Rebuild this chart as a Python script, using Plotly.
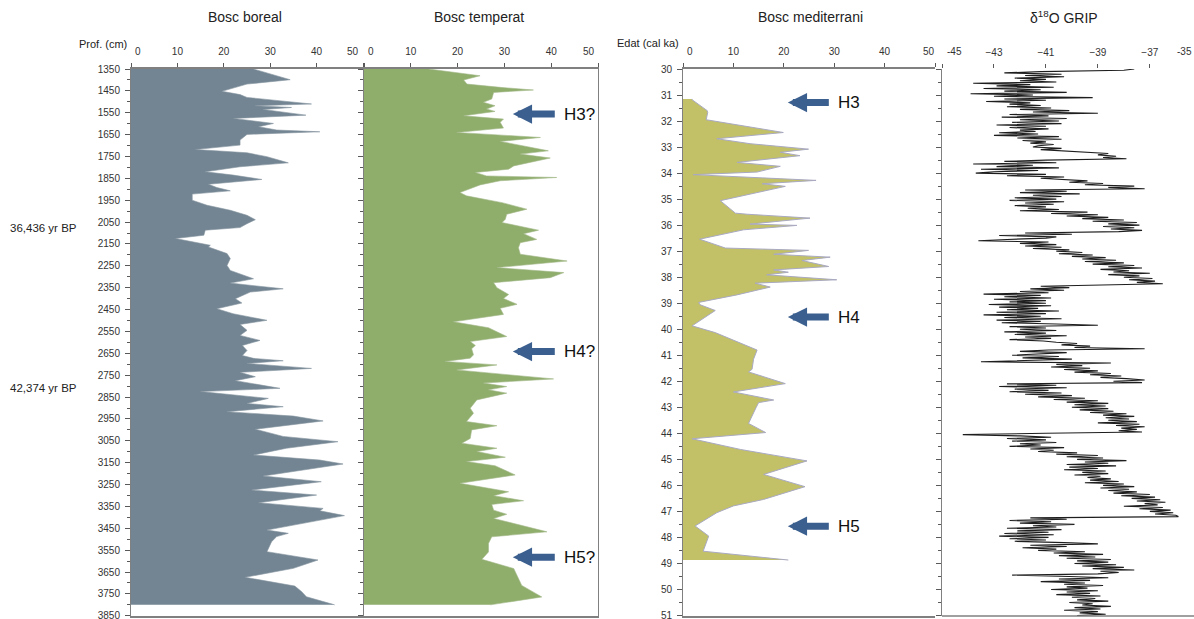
import plotly.graph_objects as go

# ---------------- data ----------------
boreal_depth = [1350, 1399, 1419, 1437, 1452, 1467, 1480, 1510, 1518, 1526, 1535, 1561, 1576, 1599, 1614,
                1629, 1637, 1649, 1675, 1698, 1718, 1733, 1751, 1779, 1797, 1820, 1835, 1855, 1866, 1877,
                1892, 1907, 1922, 1950, 1973, 1996, 2019, 2039, 2057, 2075, 2087, 2110, 2125, 2141, 2156,
                2164, 2194, 2217, 2248, 2271, 2293, 2309, 2329, 2355, 2370, 2400, 2420, 2446, 2469, 2499,
                2518, 2545, 2568, 2591, 2614, 2637, 2660, 2673, 2684, 2696, 2719, 2737, 2757, 2775, 2810,
                2825, 2856, 2879, 2894, 2917, 2937, 2959, 2997, 3030, 3054, 3084, 3115, 3138, 3156, 3191,
                3211, 3237, 3275, 3298, 3333, 3359, 3370, 3392, 3427, 3458, 3473, 3488, 3511, 3557, 3565,
                3595, 3633, 3674, 3714, 3740, 3763, 3800]
boreal_pct = [26.4, 34.3, 25.0, 22.1, 19.6, 23.5, 25.0, 38.9, 26.8, 34.6, 28.5, 37.7, 22.1, 30.7, 27.5,
              31.4, 40.7, 25.0, 23.5, 23.5, 13.9, 25.0, 29.3, 33.9, 23.5, 16.0, 22.0, 28.2, 22.0, 16.7,
              18.5, 21.4, 13.2, 13.2, 16.4, 21.4, 25.0, 26.8, 25.0, 23.5, 16.0, 15.7, 9.6, 13.5, 17.1,
              16.7, 20.7, 21.4, 20.7, 21.4, 24.2, 26.4, 21.4, 32.8, 25.7, 22.5, 23.9, 18.5, 22.0, 29.3,
              23.5, 25.0, 23.5, 27.8, 24.0, 25.0, 24.0, 26.4, 32.8, 25.0, 38.9, 23.5, 26.8, 22.5, 32.1,
              15.0, 29.6, 25.0, 32.8, 20.7, 35.0, 41.4, 26.8, 32.8, 44.6, 33.5, 26.4, 40.7, 45.7, 35.0,
              28.5, 41.0, 26.0, 40.0, 27.5, 41.4, 40.7, 46.0, 37.1, 29.3, 33.9, 31.4, 30.3, 29.3, 31.6,
              40.3, 35.0, 24.6, 35.3, 36.8, 37.8, 43.9]

temperat_depth = [1350, 1381, 1400, 1419, 1434, 1446, 1457, 1487, 1502, 1518, 1533, 1544, 1564, 1579, 1594,
                  1620, 1640, 1663, 1681, 1724, 1739, 1757, 1793, 1808, 1823, 1839, 1846, 1861, 1880, 1915,
                  1930, 1961, 1991, 2014, 2037, 2052, 2087, 2103, 2129, 2144, 2167, 2197, 2228, 2258, 2281,
                  2304, 2327, 2350, 2381, 2399, 2426, 2444, 2472, 2506, 2533, 2573, 2596, 2614, 2629, 2657,
                  2672, 2687, 2703, 2726, 2767, 2786, 2802, 2817, 2832, 2863, 2901, 2924, 2962, 2981, 3000,
                  3039, 3061, 3084, 3099, 3125, 3145, 3164, 3206, 3244, 3283, 3301, 3324, 3341, 3367, 3386,
                  3405, 3466, 3489, 3519, 3558, 3592, 3634, 3680, 3711, 3764, 3800]
temperat_pct = [13.8, 24.8, 21.3, 22.0, 29.1, 36.2, 27.7, 27.3, 25.5, 28.0, 26.2, 28.0, 21.3, 29.8, 29.1,
                29.8, 19.8, 37.7, 29.1, 39.4, 33.4, 39.8, 32.0, 30.9, 23.8, 26.2, 41.2, 29.1, 24.8, 20.5,
                21.9, 29.5, 34.8, 30.5, 30.2, 29.5, 37.3, 34.1, 36.9, 33.4, 33.0, 33.4, 43.4, 28.4, 42.7,
                39.8, 27.7, 28.4, 30.9, 29.8, 32.7, 29.1, 29.8, 19.1, 26.6, 30.5, 22.7, 23.8, 23.0, 23.4,
                22.7, 17.3, 28.4, 19.8, 40.5, 25.5, 30.5, 26.6, 30.5, 24.1, 22.7, 23.4, 21.9, 28.4, 23.0,
                22.7, 20.9, 28.4, 24.1, 30.2, 21.9, 28.0, 32.3, 20.5, 30.9, 27.7, 34.1, 27.3, 27.7, 30.5,
                27.7, 39.1, 27.3, 26.6, 26.6, 25.2, 32.0, 33.0, 33.7, 38.0, 27.0]

medit_age = [31.15, 31.18, 31.60, 31.67, 31.95, 32.01, 32.44, 32.68, 32.87, 33.08, 33.20, 33.33, 33.59,
             33.74, 33.96, 34.06, 34.28, 34.41, 34.51, 35.06, 35.54, 35.58, 35.73, 35.96, 36.01, 36.18,
             36.54, 36.88, 36.97, 37.12, 37.23, 37.36, 37.59, 37.72, 37.81, 37.91, 38.10, 38.23, 38.38,
             38.68, 38.97, 39.06, 39.28, 39.87, 40.13, 40.80, 41.15, 41.54, 41.64, 42.09, 42.41, 42.72,
             42.82, 43.01, 43.62, 43.97, 44.21, 44.62, 45.06, 45.58, 46.05, 46.54, 46.79, 47.05, 47.56,
             47.95, 48.53, 48.87]
medit_pct = [1.8, 1.8, 4.8, 4.9, 4.6, 6.4, 19.9, 6.7, 13.3, 24.9, 19.3, 23.2, 10.7,
             19.3, 14.7, 2.0, 26.4, 15.7, 20.3, 7.4, 10.4, 12.7, 25.2, 13.3, 22.6, 12.0,
             3.3, 8.4, 24.9, 18.0, 29.2, 23.6, 28.9, 18.0, 20.9, 16.6, 30.5, 14.3, 17.3,
             10.7, 3.1, 3.4, 6.4, 1.8, 6.4, 14.7, 14.0, 13.7, 13.0, 20.3, 10.0, 18.0,
             15.0, 14.5, 13.0, 16.4, 1.8, 11.4, 24.6, 16.0, 24.2, 16.0, 10.0, 6.7, 2.4,
             5.1, 4.0, 20.9]

# GRIP d18O, one row per ka (30.00 ... 50.95 in 0.05 ka steps) + 51.00
grip_d18o = [
    -37.6, -38.0, -41.2, -42.6, -40.4, -41.8, -40.3, -42.2, -41.0, -42.0, -40.6, -43.8, -41.6, -42.9, -40.7, -43.4, -41.2, -42.6, -40.2, -43.9,
    -41.5, -43.0, -39.2, -42.6, -41.0, -43.3, -41.6, -42.4, -41.2, -42.5, -40.8, -42.0, -40.1, -41.5, -39.0, -42.4, -40.9, -42.7, -40.2, -42.0,
    -40.5, -42.3, -40.4, -42.9, -41.0, -42.4, -40.9, -42.0, -41.4, -42.8, -41.3, -43.0, -40.5, -42.1, -40.4, -41.9, -41.0, -41.6, -40.7, -41.3,
    -41.5, -40.4, -41.2, -40.2, -39.1, -38.6, -39.0, -38.3, -38.8, -37.9, -41.0, -42.6, -40.6, -43.8, -41.5, -42.9, -40.5, -43.5, -41.3, -43.0,
    -43.7, -41.0, -42.5, -40.3, -41.2, -40.0, -39.4, -40.1, -38.8, -39.5, -37.6, -38.6, -37.2, -41.8, -40.2, -42.0, -39.7, -41.5, -40.4, -42.2,
    -40.6, -42.4, -40.3, -41.8, -40.7, -42.2, -41.0, -41.7, -40.5, -42.0, -39.4, -40.8, -39.0, -40.2, -38.6, -39.6, -38.0, -39.2, -37.5, -38.6,
    -37.4, -38.8, -37.6, -38.5, -37.3, -38.2, -41.8, -40.0, -42.8, -40.6, -41.0, -42.5, -43.6, -40.9, -42.0, -40.6, -41.8, -40.4, -41.5, -40.1,
    -40.6, -39.6, -40.5, -39.2, -40.0, -38.7, -39.6, -38.3, -39.5, -38.0, -39.2, -37.6, -38.6, -37.3, -38.9, -37.8, -38.4, -37.0, -38.6, -37.4,
    -38.0, -36.9, -37.8, -36.8, -37.5, -36.5, -39.4, -41.2, -40.1, -41.6, -40.3, -42.0, -40.9, -43.4, -41.2, -42.6, -40.8, -43.0, -41.0, -42.4,
    -41.0, -43.2, -40.8, -42.8, -41.3, -42.5, -40.5, -42.9, -41.0, -43.4, -41.2, -42.6, -40.4, -42.9, -41.2, -42.7, -40.6, -39.0, -42.4, -41.0,
    -42.0, -40.6, -42.6, -41.0, -42.2, -40.2, -41.8, -40.8, -42.4, -41.1, -40.6, -39.8, -40.4, -39.3, -39.9, -37.2, -40.9, -42.0, -40.2, -41.5,
    -42.3, -40.5, -41.9, -40.0, -41.6, -43.5, -38.5, -40.6, -39.6, -40.8, -39.3, -40.3, -39.0, -39.9, -38.5, -39.3, -38.1, -38.9, -37.9, -37.2,
    -38.4, -37.3, -42.5, -40.6, -42.8, -40.2, -42.2, -40.9, -42.4, -40.4, -41.8, -40.0, -41.3, -39.5, -40.7, -39.0, -40.2, -38.6, -39.9, -38.7,
    -40.0, -38.6, -39.7, -38.4, -39.3, -37.9, -38.8, -37.6, -38.7, -37.8, -38.6, -37.5, -39.0, -37.4, -38.3, -37.2, -38.1, -37.5, -38.2, -37.3,
    -41.0, -44.2, -42.0, -40.8, -42.5, -41.0, -42.3, -40.6, -42.0, -41.2, -42.4, -40.3, -41.6, -40.7, -41.3, -39.8, -40.6, -39.0, -40.2, -38.8,
    -39.8, -37.9, -39.5, -38.6, -40.2, -38.3, -40.1, -39.0, -40.3, -38.7, -39.6, -38.6, -39.9, -38.9, -39.4, -38.5, -39.3, -38.2, -39.5, -38.0,
    -38.8, -37.6, -38.9, -37.8, -38.6, -37.5, -38.4, -37.0, -38.1, -36.8, -37.7, -36.6, -37.5, -36.4, -37.2, -36.7, -38.0, -36.5, -37.4, -36.2,
    -37.0, -36.1, -36.8, -36.0, -35.9, -41.6, -40.2, -42.4, -40.8, -42.0, -39.9, -41.5, -40.6, -42.5, -40.4, -42.1, -40.9, -42.6, -40.7, -42.8,
    -40.9, -42.4, -41.0, -42.2, -40.3, -39.0, -41.6, -40.2, -41.9, -40.6, -41.3, -39.5, -40.7, -38.8, -40.5, -39.1, -40.2, -38.5, -39.8, -38.6,
    -39.9, -38.3, -39.6, -38.0, -39.2, -37.6, -38.9, -38.2, -39.0, -42.3, -40.1, -38.6, -40.5, -39.3, -41.2, -39.5, -40.3, -38.8, -40.2, -39.4,
    -40.8, -39.0, -40.2, -39.3, -40.6, -38.9, -40.0, -39.1, -39.8, -38.6, -40.1, -39.2, -39.6, -38.5, -39.9, -38.9, -40.3, -39.0, -39.7, -38.7,
    -39.8,
]
grip_age = [round(30.0 + 0.05 * i, 2) for i in range(len(grip_d18o))]

panel_titles = ["Bosc boreal", "Bosc temperat", "Bosc mediterrani", "δ<sup>18</sup>O GRIP"]
temperat_events = ["H3?", "H4?", "H5?"]
temperat_event_depth = [1556, 2642, 3582]
medit_events = ["H3", "H4", "H5"]
medit_event_age = [31.29, 39.53, 47.57]
side_labels = ["36,436 yr BP", "42,374 yr BP"]
side_label_depth = [2078, 2808]
pct_ticks = [10, 20, 30, 40]
pct_ends = [0, 50]
grip_ticks = [-43, -41, -39, -37]
grip_ends = [-45, -35]

# ---------------- styling ----------------
W, H = 1194, 619
FONT = "Liberation Sans, Arial, sans-serif"
AX = "#808080"
TK = "#595959"
TXT = "#333333"
ARROW = "#3b5f8e"

def px_x(p):
    return p / W

def px_y(p):
    return 1 - p / H

ydom = [px_y(616), px_y(69)]
edges = [(131, 363), (364, 598), (683, 935), (942, 1194)]
doms = [[px_x(a), px_x(b)] for a, b in edges]

fig = go.Figure()
fig.add_trace(go.Scatter(x=boreal_pct, y=boreal_depth, mode="lines", fill="tozerox",
                         fillcolor="#738592", line=dict(color="#8796a1", width=0.6),
                         xaxis="x", yaxis="y", showlegend=False))
fig.add_trace(go.Scatter(x=temperat_pct, y=temperat_depth, mode="lines", fill="tozerox",
                         fillcolor="#8fad6b", line=dict(color="#a3b98a", width=0.6),
                         xaxis="x2", yaxis="y2", showlegend=False))
fig.add_trace(go.Scatter(x=medit_pct, y=medit_age, mode="lines", fill="tozerox",
                         fillcolor="#c2c167", line=dict(color="#a9a9c2", width=1),
                         xaxis="x3", yaxis="y3", showlegend=False))
fig.add_trace(go.Scatter(x=grip_d18o, y=grip_age, mode="lines",
                         line=dict(color="#1e1e1e", width=1.1),
                         xaxis="x4", yaxis="y4", showlegend=False))

tickfont = dict(family=FONT, size=10, color=TXT)

def xax(dom, rng, tickvals, endvals, anchor, showline=True):
    return dict(domain=dom, range=rng, side="top", tickmode="array", tickvals=tickvals,
                anchor=anchor, showline=showline, mirror=showline, linecolor=AX, linewidth=1.5,
                ticks="outside", ticklen=4, tickcolor=TK, tickfont=tickfont, ticklabelstandoff=4,
                automargin=False,
                minor=dict(tickmode="array", tickvals=endvals, ticks="outside", ticklen=4,
                           tickcolor=TK),
                showgrid=False, zeroline=False, fixedrange=True)

def yax(rng, dtick, tick0, minor_dtick, labels, anchor, mirror=False):
    return dict(domain=ydom, range=rng, dtick=dtick, tick0=tick0, anchor=anchor,
                showline=True, mirror=mirror, linecolor=AX, linewidth=1,
                ticks="outside", ticklen=5, tickcolor=TK, tickfont=tickfont,
                showticklabels=labels, ticklabelstandoff=3, ticklabeloverflow="allow",
                automargin=False,
                minor=dict(ticks="outside", ticklen=3, tickcolor=TK, dtick=minor_dtick, tick0=tick0),
                showgrid=False, zeroline=False, fixedrange=True)

fig.update_layout(
    width=W, height=H, margin=dict(l=0, r=0, t=0, b=0, autoexpand=False),
    paper_bgcolor="white", plot_bgcolor="white",
    font=dict(family=FONT, color=TXT),
    xaxis=xax(doms[0], [0, 50], pct_ticks, pct_ends, "y"),
    xaxis2=xax(doms[1], [0, 50], pct_ticks, pct_ends, "y2"),
    xaxis3=xax(doms[2], [0, 50], pct_ticks, pct_ends, "y3"),
    xaxis4=xax(doms[3], [-45, -35.3], grip_ticks, grip_ends, "y4", showline=False),
    yaxis=yax([3851, 1350], 100, 1350, 50, True, "x"),
    yaxis2=yax([3851, 1350], 100, 1350, 50, False, "x2", mirror=True),
    yaxis3=yax([51.02, 30], 1, 30, 0.5, True, "x3"),
    yaxis4=yax([51.02, 30], 1, 30, 0.5, False, "x4"),
)

# bottom line of GRIP panel
fig.add_shape(type="line", xref="x4 domain", yref="y4 domain", x0=0, x1=1, y0=0, y1=0,
              line=dict(color=AX, width=1.5))

LABEL_Y = px_y(52)
ann = []
end_labels = [(str(pct_ends[0]), 133, "left"), (str(pct_ends[1]), 361, "right"),
              (str(pct_ends[0]), 366, "left"), (str(pct_ends[1]), 597, "right"),
              (str(pct_ends[0]), 685, "left"), (str(pct_ends[1]), 937, "right"),
              (str(grip_ends[0]), 945, "left"), (str(grip_ends[1]), 1194, "right")]
for t, xp, anc in end_labels:
    ann.append(dict(text=t, x=px_x(xp), y=LABEL_Y, xref="paper", yref="paper",
                    xanchor=anc, yanchor="middle", showarrow=False, font=tickfont))

title_x = [245, 479, 810, 1064]
for t, xp in zip(panel_titles, title_x):
    ann.append(dict(text=t, x=px_x(xp), y=px_y(17), xref="paper", yref="paper",
                    xanchor="center", yanchor="middle", showarrow=False,
                    font=dict(family=FONT, size=14, color="#222")))
ann.append(dict(text="Prof. (cm)", x=px_x(129), y=px_y(44), xref="paper", yref="paper",
                xanchor="right", yanchor="middle", showarrow=False,
                font=dict(family=FONT, size=11, color="#222")))
ann.append(dict(text="Edat (cal ka)", x=px_x(681), y=px_y(43), xref="paper", yref="paper",
                xanchor="right", yanchor="middle", showarrow=False,
                font=dict(family=FONT, size=11, color="#222")))
for lab, d in zip(side_labels, side_label_depth):
    ann.append(dict(text=lab, x=px_x(8), y=d, xref="paper", yref="y",
                    xanchor="left", yanchor="middle", showarrow=False,
                    font=dict(family=FONT, size=11.5, color="#222")))

# Heinrich-event arrows: text box centre at (ax, ay), arrow runs from the box edge to (x, y)
for lab, d in zip(temperat_events, temperat_event_depth):
    ann.append(dict(text=lab, x=31.8, y=d, ax=46.0, ay=d, xref="x2", yref="y2",
                    axref="x2", ayref="y2", showarrow=True, arrowhead=2, arrowsize=0.55,
                    arrowwidth=7, arrowcolor=ARROW, borderpad=9, borderwidth=0,
                    font=dict(family=FONT, size=17, color="#111")))
for lab, a in zip(medit_events, medit_event_age):
    ann.append(dict(text=lab, x=20.8, y=a, ax=32.9, ay=a, xref="x3", yref="y3",
                    axref="x3", ayref="y3", showarrow=True, arrowhead=2, arrowsize=0.55,
                    arrowwidth=7, arrowcolor=ARROW, borderpad=9, borderwidth=0,
                    font=dict(family=FONT, size=17, color="#111")))
fig.update_layout(annotations=ann)

fig.write_html("out.html", config={"displayModeBar": False},
               post_script="document.body.style.margin='0px';document.body.style.padding='0px';")
